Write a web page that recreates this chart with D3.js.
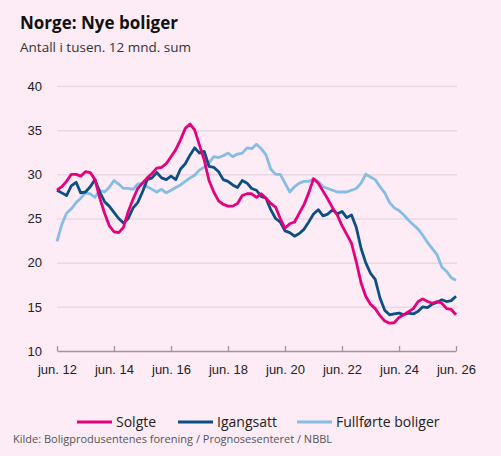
<html>
<head>
<meta charset="utf-8">
<script src="https://cdnjs.cloudflare.com/ajax/libs/d3/7.8.5/d3.min.js"></script>
<style>
    body { margin: 0; background: #fdebf5; }
    svg { display: block; font-family: "Open Sans", "Noto Sans", sans-serif; }
    .title { font-size: 17px; font-weight: bold; fill: #111; }
    .subtitle { font-size: 13.5px; fill: #333; }
    .tick text { font-size: 13px; fill: #222; }
    .legend text { font-size: 14px; fill: #222; }
    .source { font-size: 11px; fill: #555; }
</style>
</head>
<body>
<script>
// bi-monthly observations, starting june 2012
var startMonth = new Date(2012, 5, 1);
var stepMonths = 2;

var solgte = [28.2, 28.6, 29.2, 30.0, 30.0, 29.8, 30.3, 30.2, 29.4, 27.3,
    25.6, 24.2, 23.5, 23.4, 24.0, 25.8, 27.2, 28.4, 29.0, 29.6,
    30.1, 30.7, 30.8, 31.2, 32.0, 32.8, 33.9, 35.2, 35.7, 35.0,
    33.3, 31.6, 29.3, 28.0, 27.0, 26.6, 26.4, 26.4, 26.7, 27.6,
    27.8, 27.8, 27.4, 27.8, 27.3, 26.7, 26.3, 25.0, 23.9, 24.4,
    24.6, 25.6, 26.6, 27.9, 29.5, 29.0, 28.1, 27.2, 26.2, 25.4,
    24.2, 23.2, 22.2, 20.1, 17.7, 16.2, 15.3, 14.8, 14.0, 13.4,
    13.15, 13.2, 13.8, 14.1, 14.45, 14.8, 15.6, 15.9, 15.6, 15.4,
    15.6, 15.4, 14.8, 14.7, 14.1];

var igangsatt = [28.2, 27.9, 27.6, 28.7, 29.1, 27.9, 28.0, 28.6, 29.4, 28.0,
    26.9, 26.4, 25.7, 25.0, 24.5, 25.0, 26.2, 26.8, 28.0, 29.4,
    29.6, 30.2, 29.6, 29.4, 29.8, 29.4, 30.6, 31.2, 32.2, 33.0,
    32.4, 32.6, 30.9, 30.8, 30.3, 29.4, 29.2, 28.8, 28.5, 29.3,
    29.0, 28.4, 28.2, 27.5, 27.3, 26.0, 25.0, 24.6, 23.6, 23.4,
    23.0, 23.3, 23.8, 24.6, 25.5, 26.0, 25.3, 25.5, 26.0, 25.5,
    25.8, 25.1, 25.4, 24.0, 21.6, 20.0, 18.8, 18.1, 16.0, 14.6,
    14.1, 14.2, 14.3, 14.1, 14.3, 14.2, 14.5, 15.0, 14.9, 15.3,
    15.5, 15.8, 15.6, 15.7, 16.2];

var fullforte = [22.4, 24.3, 25.6, 26.1, 26.8, 27.3, 27.9, 27.8, 27.4, 28.2,
    28.0, 28.5, 29.3, 28.9, 28.4, 28.4, 28.3, 28.9, 29.0, 28.6,
    28.3, 28.0, 28.3, 27.9, 28.2, 28.5, 28.8, 29.2, 29.6, 29.9,
    30.5, 30.8, 31.3, 32.0, 31.9, 32.1, 32.4, 32.0, 32.3, 32.4,
    33.0, 32.9, 33.4, 32.9, 32.2, 30.6, 30.0, 30.0, 29.0, 28.0,
    28.6, 29.0, 29.2, 29.2, 29.5, 29.2, 28.6, 28.4, 28.2, 28.0,
    28.0, 28.0, 28.2, 28.4, 29.0, 30.0, 29.7, 29.4, 28.6, 27.9,
    26.8, 26.2, 25.9, 25.4, 24.8, 24.3, 23.8, 23.1, 22.3, 21.6,
    20.9, 19.5, 19.0, 18.3, 18.0];

var seriesNames = ["Solgte", "Igangsatt", "Fullførte boliger"];
var seriesColors = ["#e5007d", "#0b4f86", "#86bde4"];
var yTicks = [10, 15, 20, 25, 30, 35, 40];
var xTickYears = [2012, 2014, 2016, 2018, 2020, 2022, 2024, 2026];

var width = 501, height = 456;
var svg = d3.select("body").append("svg")
    .attr("width", width)
    .attr("height", height);

var x = d3.scaleTime()
    .domain([new Date(2012, 5, 1), new Date(2026, 5, 1)])
    .range([57, 456]);
var y = d3.scaleLinear().domain([10, 40]).range([351, 86]);

svg.append("text").attr("class", "title").attr("x", 20).attr("y", 29).text("Norge: Nye boliger");
svg.append("text").attr("class", "subtitle").attr("x", 20).attr("y", 52).text("Antall i tusen. 12 mnd. sum");

// gridlines + y labels
var yAxis = svg.append("g")
    .attr("transform", "translate(57,0)")
    .call(d3.axisLeft(y).tickValues(yTicks).tickSize(-400).tickPadding(15));
yAxis.select(".domain").remove();
yAxis.selectAll(".tick line").attr("stroke", "#ead8e3").attr("stroke-width", 1.5)
    .filter(d => d === 10).remove();

// x axis
var xAxis = svg.append("g")
    .attr("transform", "translate(0,351)")
    .call(d3.axisBottom(x)
        .tickValues(xTickYears.map(yr => new Date(yr, 5, 1)))
        .tickSizeInner(-5).tickSizeOuter(0).tickPadding(14)
        .tickFormat(d => "jun. " + String(d.getFullYear()).slice(2)));
xAxis.select(".domain").attr("stroke", "#a2939d").attr("stroke-width", 1.3);
xAxis.selectAll(".tick line").attr("stroke", "#a2939d").attr("stroke-width", 1.3);

var line = d3.line()
    .x((d, i) => x(d3.timeMonth.offset(startMonth, i * stepMonths)))
    .y(d => y(d));

[fullforte, igangsatt, solgte].forEach(function (vals, k) {
    var idx = 2 - k;
    svg.append("path")
        .datum(vals)
        .attr("fill", "none")
        .attr("stroke", seriesColors[idx])
        .attr("stroke-width", 2.8)
        .attr("stroke-linejoin", "round")
        .attr("d", line);
});

// legend
var legendX = [77, 178, 297];
var legend = svg.append("g").attr("class", "legend");
seriesNames.forEach(function (name, i) {
    legend.append("line")
        .attr("x1", legendX[i]).attr("x2", legendX[i] + 35)
        .attr("y1", 422).attr("y2", 422)
        .attr("stroke", seriesColors[i]).attr("stroke-width", 3);
    legend.append("text")
        .attr("x", legendX[i] + 39).attr("y", 427)
        .text(name);
});

svg.append("text").attr("class", "source").attr("x", 13).attr("y", 443)
    .text("Kilde: Boligprodusentenes forening / Prognosesenteret / NBBL");
</script>
</body>
</html>
